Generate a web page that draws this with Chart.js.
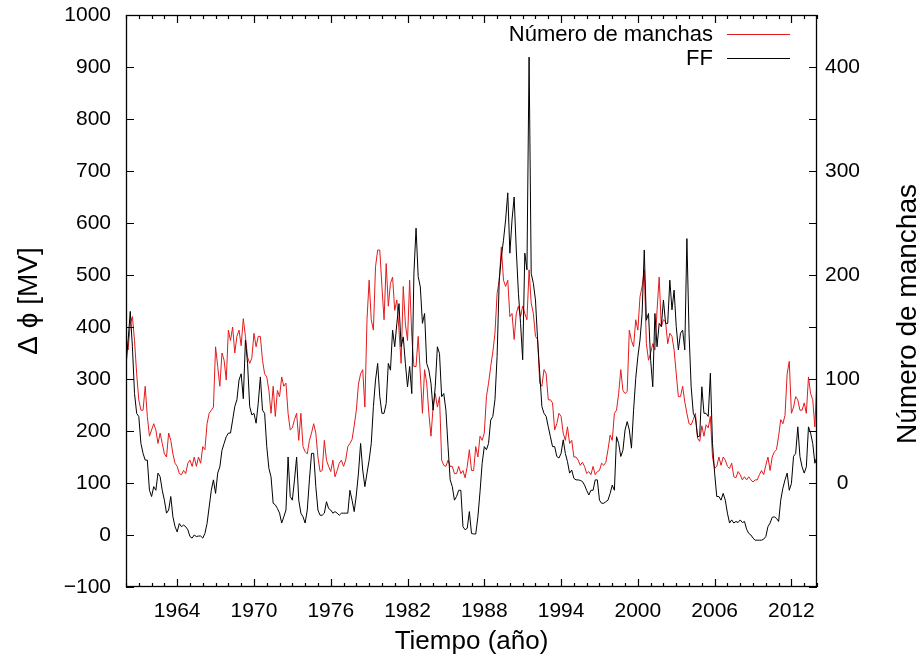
<!DOCTYPE html>
<html lang="es">
<head>
<meta charset="utf-8">
<script src="https://cdn.jsdelivr.net/npm/chart.js@4.4.1/dist/chart.umd.min.js"></script>
<style>
  html, body { margin: 0; padding: 0; background: #fff; }
  #wrap { width: 922px; height: 660px; }
</style>
</head>
<body>
<div id="wrap"><canvas id="ff-chart" width="922" height="660"></canvas></div>
<script>
  // series sampled every two months, starting January 1960
  const startYear = 1960;
  const perYear = 6;

  // FF, Δϕ in MV (left axis)
  const ff = [
    324, 375, 430, 362, 272, 234, 228, 176, 157, 144, 144, 86,
    74, 93, 86, 119, 112, 86, 67, 42, 48, 74, 35, 16,
    6, 22, 16, 19, 16, 10, -3, -6, 0, -3, -2, -2,
    -6, 3, 22, 54, 86, 106, 80, 119, 131, 163, 176, 189,
    196, 196, 221, 247, 260, 298, 310, 262, 375, 330, 247, 231,
    234, 215, 253, 304, 240, 234, 170, 128, 112, 61, 58, 51,
    42, 23, 35, 48, 150, 74, 67, 106, 150, 67, 42, 35,
    23, 48, 106, 157, 157, 93, 48, 38, 38, 42, 64, 51,
    48, 42, 45, 42, 38, 42, 42, 42, 42, 86, 67, 45,
    77, 119, 176, 125, 93, 119, 144, 176, 247, 298, 330, 266,
    234, 234, 253, 330, 317, 394, 362, 407, 445, 362, 381, 330,
    285, 324, 272, 503, 590, 497, 477, 407, 426, 330, 317, 292,
    240, 285, 362, 349, 266, 272, 240, 170, 106, 93, 67, 74,
    86, 86, 16, 10, 13, 45, 3, 2, 2, 35, 83, 138,
    170, 164, 176, 221, 228, 260, 343, 490, 535, 567, 606, 658,
    542, 606, 650, 548, 465, 407, 337, 542, 510, 919, 503, 484,
    452, 375, 311, 247, 234, 228, 208, 189, 170, 170, 151, 148,
    157, 183, 157, 141, 119, 125, 109, 106, 106, 105, 103, 96,
    86, 77, 86, 86, 106, 106, 67, 61, 61, 64, 67, 80,
    96, 86, 189, 176, 151, 163, 202, 218, 202, 167, 240, 301,
    343, 375, 426, 548, 413, 426, 336, 285, 426, 362, 407, 401,
    452, 407, 407, 490, 433, 471, 401, 356, 388, 394, 356, 570,
    388, 285, 234, 225, 189, 190, 285, 234, 234, 228, 311, 176,
    119, 74, 74, 67, 80, 67, 42, 23, 29, 23, 26, 24,
    29, 24, 26, 11, 3, 0, -6, -10, -10, -10, -10, -8,
    -3, 16, 23, 34, 35, 32, 26, 67, 90, 106, 119, 86,
    99, 151, 157, 208, 151, 131, 119, 131, 208, 196, 176, 138,
    151
  ];

  // sunspot number (right axis)
  const manchas = [
    141, 128, 153, 160, 137, 105, 80, 70, 70, 93, 64, 45,
    51, 57, 51, 38, 48, 38, 28, 25, 48, 41, 28, 19,
    16, 9, 8, 12, 9, 19, 22, 16, 25, 16, 25, 19,
    35, 32, 57, 67, 70, 73, 131, 112, 93, 125, 118, 99,
    147, 137, 150, 125, 141, 147, 132, 158, 141, 121, 115, 120,
    144, 131, 141, 141, 118, 105, 102, 89, 67, 93, 64, 89,
    83, 102, 93, 96, 67, 51, 53, 61, 67, 41, 67, 35,
    30, 28, 41, 48, 57, 48, 25, 11, 12, 41, 22, 16,
    11, 22, 6, 12, 19, 22, 16, 22, 35, 38, 42, 55,
    70, 95, 105, 109, 73, 157, 195, 157, 147, 208, 224, 224,
    189, 157, 211, 170, 192, 198, 166, 176, 147, 115, 189, 153,
    137, 195, 141, 112, 112, 141, 105, 67, 109, 96, 67, 45,
    73, 86, 73, 83, 22, 17, 16, 22, 16, 16, 9, 9,
    16, 9, 12, 5, 16, 32, 12, 12, 35, 25, 45, 41,
    48, 83, 96, 112, 126, 144, 182, 195, 227, 195, 189, 195,
    160, 163, 138, 163, 170, 160, 170, 163, 157, 205, 173, 163,
    141, 138, 96, 93, 109, 105, 80, 80, 77, 51, 57, 67,
    64, 48, 41, 54, 38, 41, 25, 25, 22, 17, 20, 16,
    9, 11, 8, 16, 8, 11, 12, 19, 17, 20, 32, 46,
    41, 67, 70, 86, 109, 89, 86, 88, 147, 137, 131, 157,
    147, 179, 189, 205, 134, 118, 125, 134, 128, 166, 198, 150,
    157, 155, 134, 144, 141, 128, 105, 83, 83, 93, 78, 67,
    57, 56, 61, 67, 43, 40, 55, 45, 56, 53, 64, 25,
    14, 16, 25, 17, 25, 22, 16, 14, 19, 6, 5, 11,
    8, 3, 6, 3, 6, 3, 1, 3, 3, 8, 12, 8,
    17, 25, 12, 25, 30, 32, 45, 61, 57, 65, 105, 117,
    67, 73, 83, 80, 70, 70, 77, 67, 102, 86, 80, 54,
    102
  ];

  const yearTicks = [1964, 1970, 1976, 1982, 1988, 1994, 2000, 2006, 2012];
  const phiTicks = [-100, 0, 100, 200, 300, 400, 500, 600, 700, 800, 900, 1000];
  const manchasTicks = [0, 100, 200, 300, 400];

  const FONT = "'Liberation Sans', Arial, Helvetica, sans-serif";
  const RED = '#e41a1c';

  function toPoints(arr) {
    return arr.map((v, i) => ({ x: startYear + i / perYear, y: v }));
  }

  // keep the plot box where the layout padding puts it
  function noLabelOverflow(s) {
    s.paddingTop = 0; s.paddingBottom = 0;
    s.paddingLeft = 0; s.paddingRight = 0;
  }

  // gnuplot-like frame: inward ticks, mirrored, yearly minor ticks, legend and y2 label
  const framePlugin = {
    id: 'frame',
    afterDatasetsDraw(chart) {
      const { ctx, chartArea: a, scales } = chart;
      const x = scales.x, y = scales.y;
      ctx.save();
      ctx.strokeStyle = '#000';
      ctx.lineWidth = 1.2;
      ctx.beginPath();
      for (let yr = Math.ceil(x.min); yr <= x.max; yr++) {
        const px = Math.round(x.getPixelForValue(yr)) + 0.5;
        const len = yearTicks.includes(yr) ? 8 : 4;
        ctx.moveTo(px, a.bottom); ctx.lineTo(px, a.bottom - len);
        ctx.moveTo(px, a.top); ctx.lineTo(px, a.top + len);
      }
      phiTicks.forEach(v => {
        const py = Math.round(y.getPixelForValue(v)) + 0.5;
        ctx.moveTo(a.left, py); ctx.lineTo(a.left + 8, py);
        ctx.moveTo(a.right, py); ctx.lineTo(a.right - 8, py);
      });
      ctx.stroke();
      ctx.lineWidth = 1.3;
      ctx.strokeRect(a.left + 0.5, a.top + 0.5, a.right - a.left - 1, a.bottom - a.top - 1);

      // key, top right: text right-aligned, sample line after it
      ctx.font = '22px ' + FONT;
      ctx.fillStyle = '#000';
      ctx.textAlign = 'right';
      ctx.textBaseline = 'middle';
      const items = chart.data.datasets;
      items.forEach((ds, i) => {
        const ly = a.top + 19 + i * 24;
        ctx.fillText(ds.label, a.right - 104, ly + 1);
        ctx.strokeStyle = ds.borderColor;
        ctx.lineWidth = 1;
        ctx.beginPath();
        ctx.moveTo(a.right - 90, ly + 0.5);
        ctx.lineTo(a.right - 27, ly + 0.5);
        ctx.stroke();
      });

      // y2 label, reading bottom to top
      ctx.save();
      ctx.translate(908, 314);
      ctx.rotate(-Math.PI / 2);
      ctx.textAlign = 'center';
      ctx.font = '28px ' + FONT;
      ctx.fillText('Número de manchas', 0, 0);
      ctx.restore();
      ctx.restore();
    }
  };

  new Chart(document.getElementById('ff-chart'), {
    type: 'line',
    data: {
      datasets: [
        {
          label: 'Número de manchas',
          data: toPoints(manchas),
          yAxisID: 'y2',
          borderColor: RED,
          borderWidth: 1,
          pointRadius: 0,
          tension: 0,
          order: 2
        },
        {
          label: 'FF',
          data: toPoints(ff),
          yAxisID: 'y',
          borderColor: '#000',
          borderWidth: 1,
          pointRadius: 0,
          tension: 0,
          order: 1
        }
      ]
    },
    options: {
      responsive: false,
      animation: false,
      devicePixelRatio: 1,
      layout: { padding: { top: 15, left: 0, right: 0, bottom: 0 } },
      plugins: {
        legend: { display: false },
        tooltip: { enabled: false }
      },
      scales: {
        x: {
          type: 'linear',
          position: 'bottom',
          min: 1960,
          max: 2014,
          afterBuildTicks: s => { s.ticks = yearTicks.map(v => ({ value: v })); },
          afterFit: s => { s.height = 73; noLabelOverflow(s); },
          grid: { display: false, drawTicks: false },
          border: { display: false },
          ticks: {
            color: '#000',
            font: { family: FONT, size: 21 },
            padding: 12,
            maxRotation: 0,
            autoSkip: false,
            callback: v => String(v)
          },
          title: {
            display: true,
            text: 'Tiempo (año)',
            color: '#000',
            font: { family: FONT, size: 26 },
            padding: { top: 0, bottom: 3 }
          }
        },
        y: {
          position: 'left',
          min: -100,
          max: 1000,
          afterBuildTicks: s => { s.ticks = phiTicks.map(v => ({ value: v })); },
          afterFit: s => { s.width = 126; noLabelOverflow(s); },
          grid: { display: false, drawTicks: false },
          border: { display: false },
          ticks: {
            color: '#000',
            font: { family: FONT, size: 21 },
            padding: 15,
            callback: v => (v < 0 ? '\u2212' + Math.abs(v) : String(v))
          },
          title: {
            display: true,
            text: 'Δ ϕ [MV]',
            color: '#000',
            font: { family: FONT, size: 28 },
            padding: { top: 12, bottom: 0 }
          }
        },
        y2: {
          position: 'right',
          min: -100,
          max: 450,
          afterBuildTicks: s => { s.ticks = manchasTicks.map(v => ({ value: v })); },
          afterFit: s => { s.width = 105; noLabelOverflow(s); },
          grid: { display: false, drawTicks: false },
          border: { display: false },
          ticks: {
            color: '#000',
            font: { family: FONT, size: 21 },
            padding: 8,
            crossAlign: 'center',
            callback: v => String(v)
          }
        }
      }
    },
    plugins: [framePlugin]
  });
</script>
</body>
</html>
